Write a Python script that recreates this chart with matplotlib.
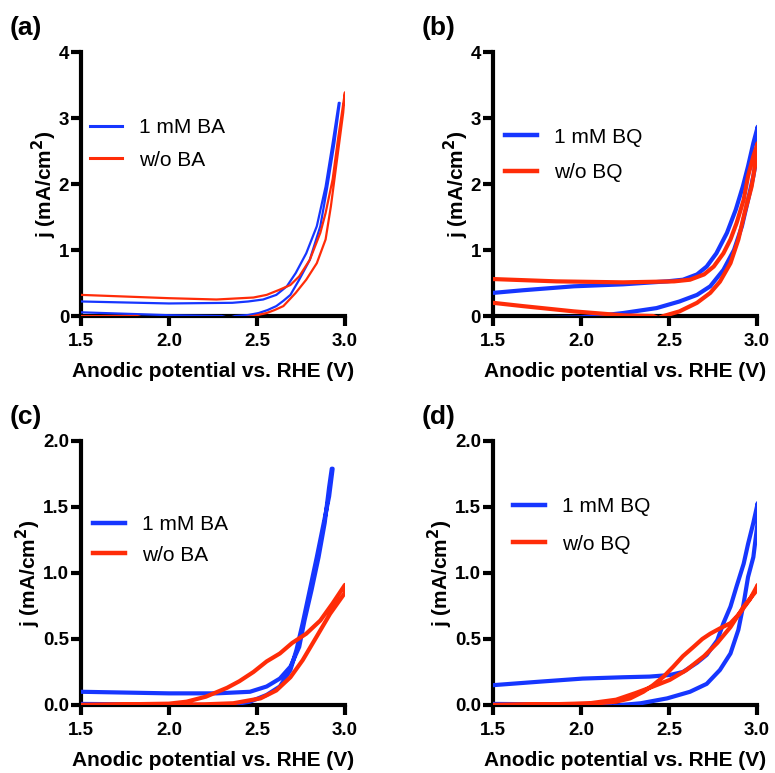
import matplotlib
matplotlib.use("Agg")
import matplotlib.pyplot as plt
import numpy as np

blue = "#1636FF"
red = "#FF2C08"

plt.rcParams['font.family'] = ['Liberation Sans', 'DejaVu Sans']

# (a) BA, thin lines  -- each curve: forward scan then reverse scan
a_blue_x = [1.5, 1.8, 2.0, 2.2, 2.3, 2.34, 2.375, 2.45, 2.51, 2.56, 2.61, 2.65, 2.69, 2.74, 2.80, 2.86, 2.90, 2.94, 2.97,
            2.965, 2.93, 2.89, 2.84, 2.78, 2.72, 2.67, 2.61, 2.535, 2.45, 2.36, 2.0, 1.5]
a_blue_y = [0.056, 0.03, 0.012, 0.004, 0.0, -0.03, 0.0, 0.015, 0.045, 0.09, 0.15, 0.23, 0.32, 0.55, 0.85, 1.36, 1.96, 2.62, 3.23,
            3.23, 2.62, 1.96, 1.36, 0.95, 0.65, 0.45, 0.32, 0.25, 0.22, 0.20, 0.19, 0.22]
a_red_x = [1.5, 1.82, 1.86, 2.4, 2.48, 2.555, 2.60, 2.65, 2.72, 2.78, 2.84, 2.89, 2.92, 2.95, 2.99,
           3.0, 2.96, 2.93, 2.89, 2.86, 2.80, 2.74, 2.69, 2.63, 2.555, 2.48, 2.27, 2.0, 1.5]
a_red_y = [0.0, 0.0, -0.03, -0.03, 0.0, 0.045, 0.09, 0.15, 0.35, 0.55, 0.80, 1.16, 1.66, 2.27, 3.08,
           3.39, 2.67, 2.07, 1.56, 1.26, 0.85, 0.60, 0.47, 0.40, 0.32, 0.28, 0.25, 0.27, 0.32]

# (b) BQ
b_blue_x = [1.5, 2.0, 2.09, 2.24, 2.43, 2.56, 2.66, 2.735, 2.81, 2.87, 2.915, 2.95, 2.98, 3.0,
            3.005, 2.98, 2.95, 2.92, 2.88, 2.83, 2.77, 2.715, 2.66, 2.58, 2.49, 2.24, 1.96, 1.67, 1.5]
b_blue_y = [-0.05, -0.02, 0.0, 0.045, 0.12, 0.22, 0.32, 0.45, 0.70, 1.0, 1.36, 1.76, 2.12, 2.42,
            2.87, 2.62, 2.27, 1.96, 1.61, 1.26, 0.95, 0.75, 0.63, 0.55, 0.525, 0.48, 0.45, 0.39, 0.35]
b_red_x = [1.5, 1.67, 1.96, 2.24, 2.41, 2.44, 2.47, 2.56, 2.66, 2.735, 2.79, 2.85, 2.895, 2.93, 2.97, 3.0,
           3.005, 2.98, 2.95, 2.925, 2.885, 2.85, 2.81, 2.755, 2.70, 2.62, 2.53, 2.24, 1.86, 1.5]
b_red_y = [0.20, 0.15, 0.07, 0.01, 0.0, -0.03, 0.0, 0.07, 0.20, 0.35, 0.52, 0.80, 1.16, 1.56, 1.96, 2.44,
           2.62, 2.42, 2.12, 1.76, 1.41, 1.16, 0.95, 0.75, 0.63, 0.55, 0.525, 0.51, 0.525, 0.56]

# (c) BA
c_blue_x = [1.5, 1.8, 2.2, 2.25, 2.3, 2.35, 2.46, 2.555, 2.63, 2.69, 2.725, 2.76, 2.80, 2.84, 2.875, 2.91, 2.93,
            2.925, 2.91, 2.885, 2.85, 2.81, 2.77, 2.74, 2.69, 2.63, 2.555, 2.46, 2.27, 2.0, 1.5]
c_blue_y = [0.008, 0.005, 0.0, -0.01, -0.01, 0.0, 0.025, 0.076, 0.14, 0.265, 0.42, 0.62, 0.87, 1.12, 1.35, 1.58, 1.79,
            1.79, 1.65, 1.38, 1.12, 0.87, 0.64, 0.44, 0.29, 0.20, 0.14, 0.10, 0.088, 0.088, 0.10]
c_red_x = [1.5, 2.0, 2.2, 2.365, 2.52, 2.61, 2.69, 2.76, 2.84, 2.915, 3.0,
           3.0, 2.93, 2.86, 2.78, 2.70, 2.63, 2.555, 2.48, 2.40, 2.33, 2.21, 2.1, 2.0, 1.5]
c_red_y = [0.0, 0.002, 0.005, 0.013, 0.05, 0.11, 0.21, 0.34, 0.52, 0.69, 0.85,
           0.91, 0.77, 0.64, 0.54, 0.47, 0.39, 0.33, 0.25, 0.18, 0.13, 0.063, 0.025, 0.01, 0.0]

# (d) BQ
d_blue_x = [1.5, 1.8, 2.14, 2.18, 2.23, 2.34, 2.49, 2.62, 2.715, 2.79, 2.85, 2.895, 2.925, 2.95, 2.98, 3.005,
            3.005, 2.98, 2.95, 2.925, 2.885, 2.85, 2.81, 2.775, 2.715, 2.66, 2.58, 2.505, 2.39, 2.24, 2.01, 1.77, 1.5]
d_blue_y = [0.008, 0.005, 0.0, -0.01, 0.0, 0.013, 0.05, 0.10, 0.16, 0.265, 0.39, 0.57, 0.77, 0.97, 1.12, 1.39,
            1.53, 1.38, 1.22, 1.07, 0.90, 0.745, 0.62, 0.49, 0.38, 0.32, 0.25, 0.227, 0.215, 0.21, 0.20, 0.177, 0.15]
d_red_x = [1.5, 1.8, 2.05, 2.2, 2.31, 2.41, 2.505, 2.60, 2.70, 2.775, 2.85, 2.925, 3.0,
           3.005, 2.96, 2.90, 2.85, 2.79, 2.735, 2.69, 2.64, 2.58, 2.525, 2.47, 2.41, 2.355, 2.28, 2.2, 2.05, 1.5]
d_red_y = [0.0, 0.004, 0.013, 0.04, 0.09, 0.14, 0.19, 0.265, 0.37, 0.47, 0.59, 0.745, 0.87,
           0.91, 0.80, 0.69, 0.62, 0.58, 0.54, 0.50, 0.44, 0.37, 0.29, 0.215, 0.15, 0.10, 0.05, 0.025, 0.008, 0.0]

panels = [
    dict(tag="(a)", pos=(0.1045, 0.5912), bx=a_blue_x, by=a_blue_y, rx=a_red_x, ry=a_red_y,
         ylim=4, yt=[0, 1, 2, 3, 4], ytl=["0", "1", "2", "3", "4"], lw=1.6, hlw=2.2,
         labels=["1 mM BA", "w/o BA"], leg=(0.034, 0.652), sp=0.64),
    dict(tag="(b)", pos=(0.636, 0.5912), bx=b_blue_x, by=b_blue_y, rx=b_red_x, ry=b_red_y,
         ylim=4, yt=[0, 1, 2, 3, 4], ytl=["0", "1", "2", "3", "4"], lw=3.0, hlw=3.2,
         labels=["1 mM BQ", "w/o BQ"], leg=(0.045, 0.61), sp=0.79),
    dict(tag="(c)", pos=(0.1045, 0.088), bx=c_blue_x, by=c_blue_y, rx=c_red_x, ry=c_red_y,
         ylim=2, yt=[0, 0.5, 1, 1.5, 2], ytl=["0.0", "0.5", "1.0", "1.5", "2.0"], lw=3.0, hlw=3.2,
         labels=["1 mM BA", "w/o BA"], leg=(0.045, 0.625), sp=0.55),
    dict(tag="(d)", pos=(0.636, 0.088), bx=d_blue_x, by=d_blue_y, rx=d_red_x, ry=d_red_y,
         ylim=2, yt=[0, 0.5, 1, 1.5, 2], ytl=["0.0", "0.5", "1.0", "1.5", "2.0"], lw=3.0, hlw=3.2,
         labels=["1 mM BQ", "w/o BQ"], leg=(0.076, 0.68), sp=0.88),
]

fig = plt.figure(figsize=(7.75, 7.73), dpi=100)

for p in panels:
    ax = fig.add_axes([p["pos"][0], p["pos"][1], 0.3406, 0.3415])
    ax.plot(p["bx"], p["by"], color=blue, lw=p["lw"], zorder=3, solid_capstyle="butt")
    ax.plot(p["rx"], p["ry"], color=red, lw=p["lw"], zorder=3, solid_capstyle="butt")
    ax.set_xlim(1.5, 3.0)
    ax.set_ylim(0, p["ylim"])
    ax.set_xticks([1.5, 2.0, 2.5, 3.0])
    ax.set_xticklabels(["1.5", "2.0", "2.5", "3.0"])
    ax.set_yticks(p["yt"])
    ax.set_yticklabels(p["ytl"])
    for s in ["top", "right"]:
        ax.spines[s].set_visible(False)
    for s in ["left", "bottom"]:
        ax.spines[s].set_linewidth(3.0)
    ax.tick_params(width=3.0, length=7, labelsize=13.5)
    ax.tick_params(axis="x", pad=5)
    ax.tick_params(axis="y", pad=1.5)
    for t in ax.get_xticklabels() + ax.get_yticklabels():
        t.set_fontweight("bold")
    ax.set_xlabel("Anodic potential vs. RHE (V)", fontsize=15, fontweight="bold", labelpad=9)
    ax.set_ylabel("j (mA/cm$^\\mathbf{2}$)", fontsize=15, fontweight="bold", labelpad=0)

    hb, = ax.plot([], [], color=blue, lw=p["hlw"])
    hr, = ax.plot([], [], color=red, lw=p["hlw"])
    ax.legend([hb, hr], p["labels"], loc="center left", bbox_to_anchor=p["leg"],
              frameon=False, fontsize=15, handlelength=1.55, handletextpad=0.8,
              borderpad=0, borderaxespad=0, labelspacing=p["sp"])

    fig.text(p["pos"][0] - 0.092, p["pos"][1] + 0.3415 + 0.031, p["tag"],
             fontsize=19, fontweight="bold", va="center", ha="left")

fig.savefig("out.png", dpi=100)
